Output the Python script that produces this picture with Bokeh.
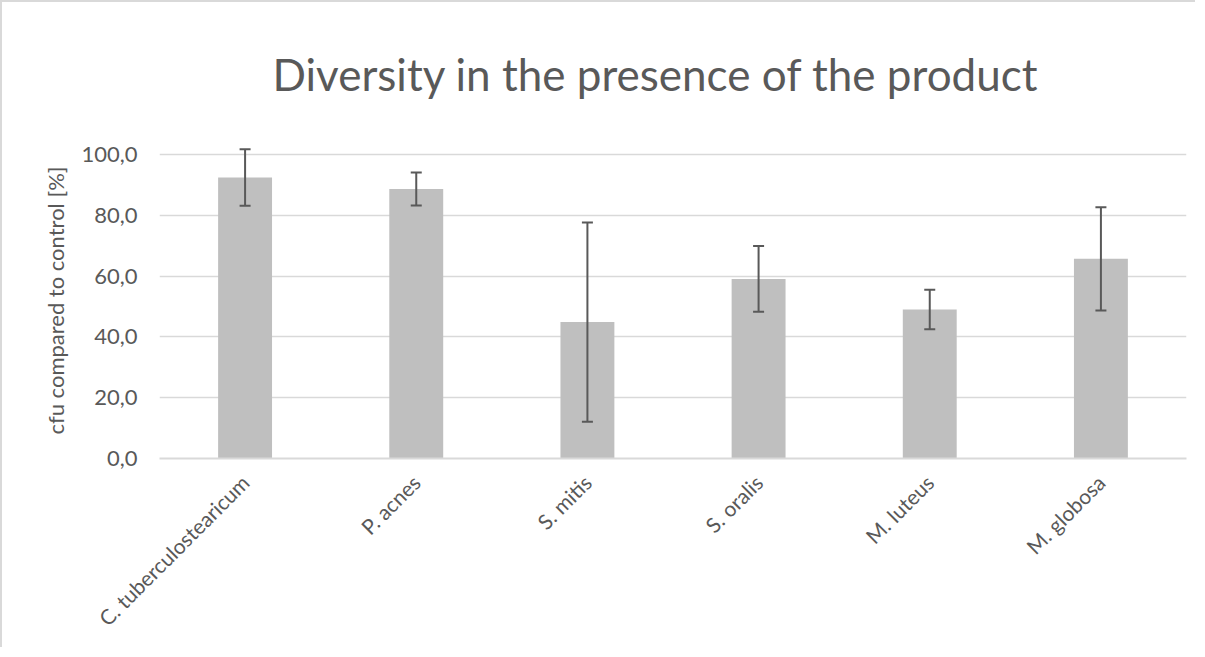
import math
from bokeh.plotting import figure
from bokeh.models import ColumnDataSource, Whisker, TeeHead, FixedTicker, Range1d
from bokeh.embed import file_html
from bokeh.resources import INLINE

categories = ["C. tuberculostearicum", "P. acnes", "S. mitis", "S. oralis", "M. luteus", "M. globosa"]
values = [92.5, 88.7, 44.9, 59.1, 49.0, 65.7]
errors = [9.3, 5.4, 32.8, 10.8, 6.5, 17.0]
y_ticks = [0, 20, 40, 60, 80, 100]
y_tick_labels = ["0,0", "20,0", "40,0", "60,0", "80,0", "100,0"]
title_text = "Diversity in the presence of the product"
y_label = "cfu compared to control [%]"

FONT = "Lato"
TXT = "#595959"
GRID = "#D9D9D9"

src = ColumnDataSource(dict(
    cat=categories,
    val=values,
    upper=[v + e for v, e in zip(values, errors)],
    lower=[v - e for v, e in zip(values, errors)],
))

W, H = 1195, 647
p = figure(x_range=categories, y_range=Range1d(0, 104), width=W, height=H,
           output_backend="svg", toolbar_location=None,
           min_border_left=157, min_border_right=11, min_border_top=140, min_border_bottom=191)

p.title.text = title_text
p.title.align = "left"
p.title.text_font = FONT
p.title.text_font_size = "44px"
p.title.text_font_style = "normal"
p.title.text_color = TXT
p.title.text_line_height = 0.8
p.title.offset = 113
p.title.standoff = 86

p.vbar(x="cat", top="val", width=0.315, source=src, fill_color="#BFBFBF", line_color=None)

w = Whisker(base="cat", upper="upper", lower="lower", source=src,
            line_color=TXT, line_width=2, level="overlay",
            upper_head=TeeHead(size=11, line_color=TXT, line_width=2),
            lower_head=TeeHead(size=11, line_color=TXT, line_width=2))
p.add_layout(w)

# axes
p.yaxis.ticker = FixedTicker(ticks=y_ticks)
p.yaxis.major_label_overrides = {t: l for t, l in zip(y_ticks, y_tick_labels)}
p.yaxis.axis_line_color = None
p.yaxis.major_tick_line_color = None
p.yaxis.minor_tick_line_color = None
p.yaxis.major_tick_out = 0
p.yaxis.major_label_standoff = 22
p.yaxis.major_label_text_font = FONT
p.yaxis.major_label_text_font_size = "22px"
p.yaxis.major_label_text_color = TXT
p.yaxis.axis_label = y_label
p.yaxis.axis_label_text_font = FONT
p.yaxis.axis_label_text_font_size = "22px"
p.yaxis.axis_label_text_font_style = "normal"
p.yaxis.axis_label_text_color = TXT
p.yaxis.axis_label_standoff = 9

p.xaxis.axis_line_color = GRID
p.xaxis.axis_line_width = 2
p.xaxis.major_tick_line_color = None
p.xaxis.minor_tick_line_color = None
p.xaxis.major_tick_out = 0
p.xaxis.major_label_orientation = math.pi / 4
p.xaxis.major_label_standoff = 20
p.xaxis.major_label_text_font = FONT
p.xaxis.major_label_text_font_size = "21px"
p.xaxis.major_label_text_color = TXT

p.xgrid.grid_line_color = None
p.ygrid.grid_line_color = GRID
p.ygrid.grid_line_width = 1.5
p.ygrid.ticker = FixedTicker(ticks=y_ticks)

p.x_range.range_padding = 0
p.outline_line_color = None
p.background_fill_color = "white"
p.border_fill_color = "white"

p.styles = {"border-left": "2px solid #D9D9D9", "border-top": "2px solid #D9D9D9"}

open("out.html", "w").write(file_html(p, INLINE))
